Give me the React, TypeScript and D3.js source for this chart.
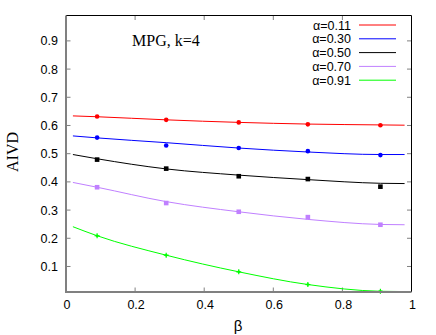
import React from 'react';
import * as d3 from 'd3';

// measured points (beta on x, AIVD on y)
const betaPts = [0.09, 0.29, 0.5, 0.7, 0.91];
const redPts = [0.632, 0.620, 0.611, 0.604, 0.601];
const bluePts = [0.557, 0.529, 0.520, 0.509, 0.495];
const blackPts = [0.479, 0.447, 0.420, 0.410, 0.383];
const purplePts = [0.381, 0.325, 0.294, 0.275, 0.248];
const greenPts = [0.209, 0.140, 0.081, 0.036, 0.012];

// fitted curves
const betaFit = [0.02, 0.09, 0.29, 0.5, 0.7, 0.91, 0.98];
const redFit = [0.634, 0.631, 0.620, 0.611, 0.605, 0.602, 0.601];
const blueFit = [0.563, 0.556, 0.539, 0.520, 0.506, 0.497, 0.497];
const blackFit = [0.497, 0.482, 0.446, 0.424, 0.408, 0.395, 0.394];
const purpleFit = [0.398, 0.381, 0.330, 0.294, 0.267, 0.249, 0.248];
const greenFit = [0.241, 0.209, 0.140, 0.081, 0.036, 0.012, 0.011];

const legendLabels = ['α=0.11', 'α=0.30', 'α=0.50', 'α=0.70', 'α=0.91'];
const colors = ['#ff0000', '#0000ff', '#000000', '#c080ff', '#00ff00'];
const markers = ['circle', 'circle', 'square', 'square', 'plus'];

const xTicks = [0, 0.2, 0.4, 0.6, 0.8, 1];
const yTicks = [0.1, 0.2, 0.3, 0.4, 0.5, 0.6, 0.7, 0.8, 0.9];

const App = () => {
  const width = 436;
  const height = 335;
  const left = 66, right = 411.5, top = 15.5, bottom = 292;

  const x = d3.scaleLinear().domain([0, 1]).range([left, right]);
  const y = d3.scaleLinear().domain([0.0095, 0.99]).range([bottom, top]);

  const pts = [redPts, bluePts, blackPts, purplePts, greenPts];
  const fits = [redFit, blueFit, blackFit, purpleFit, greenFit];

  const line = d3.line<[number, number]>()
    .x(d => x(d[0]))
    .y(d => y(d[1]))
    .curve(d3.curveMonotoneX);

  const sans = 'Liberation Sans, Arial, sans-serif';
  const serif = 'Liberation Serif, Times New Roman, serif';

  const marker = (kind: string, cx: number, cy: number, color: string, key: string) => {
    if (kind === 'square') {
      return <rect key={key} x={cx - 2.3} y={cy - 2.3} width={4.6} height={4.6} fill={color} />;
    }
    if (kind === 'plus') {
      return (
        <g key={key} stroke={color} strokeWidth={1.2}>
          <line x1={cx - 2.5} x2={cx + 2.5} y1={cy} y2={cy} />
          <line x1={cx} x2={cx} y1={cy - 2.5} y2={cy + 2.5} />
          <circle cx={cx} cy={cy} r={1.3} fill={color} stroke="none" />
        </g>
      );
    }
    return <circle key={key} cx={cx} cy={cy} r={2.3} fill={color} />;
  };

  return (
    <svg width={width} height={height} style={{ position: 'absolute', left: 0, top: 0 }}>
      <rect width={width} height={height} fill="#fff" />

      {/* ticks, mirrored on all sides */}
      {xTicks.slice(1, -1).map(t => (
        <g key={'xt' + t} stroke="#808080" strokeWidth={1}>
          <line x1={x(t)} x2={x(t)} y1={bottom} y2={bottom - 4.5} />
          <line x1={x(t)} x2={x(t)} y1={top} y2={top + 4.5} />
        </g>
      ))}
      {yTicks.map(t => (
        <g key={'yt' + t} stroke="#808080" strokeWidth={1}>
          <line x1={left} x2={left + 4.5} y1={y(t)} y2={y(t)} />
          <line x1={right} x2={right - 4.5} y1={y(t)} y2={y(t)} />
        </g>
      ))}

      {/* fitted curves */}
      {fits.map((f, i) => (
        <path key={'f' + i} d={line(betaFit.map((b, j) => [b, f[j]] as [number, number])) || ''}
          fill="none" stroke={colors[i]} strokeWidth={1} />
      ))}

      {/* data points */}
      {pts.map((p, i) => p.map((v, j) => marker(markers[i], x(betaPts[j]), y(v), colors[i], `p${i}-${j}`)))}

      {/* frame */}
      <line x1={left} x2={right} y1={top} y2={top} stroke="#000" strokeWidth={1} />
      <line x1={right} x2={right} y1={top} y2={bottom} stroke="#000" strokeWidth={1} />
      <line x1={left} x2={left} y1={top} y2={bottom + 1} stroke="#808080" strokeWidth={2} />
      <line x1={left - 1} x2={right} y1={bottom} y2={bottom} stroke="#808080" strokeWidth={2} />

      {/* tick labels */}
      {xTicks.map(t => (
        <text key={'xl' + t} x={x(t) + 1} y={309} textAnchor="middle" fontFamily={sans} fontSize={12.5} fill="#000">
          {d3.format('~g')(t)}
        </text>
      ))}
      {yTicks.map(t => (
        <text key={'yl' + t} x={58} y={y(t) + 4.5} textAnchor="end" fontFamily={sans} fontSize={12.5} fill="#000">
          {d3.format('.1f')(t)}
        </text>
      ))}

      {/* axis titles */}
      <text x={238} y={331} textAnchor="middle" fontFamily={sans} fontSize={15} fill="#000">β</text>
      <text transform={`translate(18,152) rotate(-90)`} textAnchor="middle" fontFamily={serif} fontSize={16} fill="#000">AIVD</text>
      <text x={132} y={45.5} fontFamily={serif} fontSize={16} fill="#000">MPG, k=4</text>

      {/* legend */}
      {legendLabels.map((l, i) => (
        <g key={'lg' + i}>
          <text x={351} y={25 + i * 13.8 + 4.5} textAnchor="end" fontFamily={sans} fontSize={12.5} fill="#000">{l}</text>
          <line x1={359} x2={396} y1={25 + i * 13.8} y2={25 + i * 13.8} stroke={colors[i]} strokeWidth={1} />
        </g>
      ))}
    </svg>
  );
};

export default App;
